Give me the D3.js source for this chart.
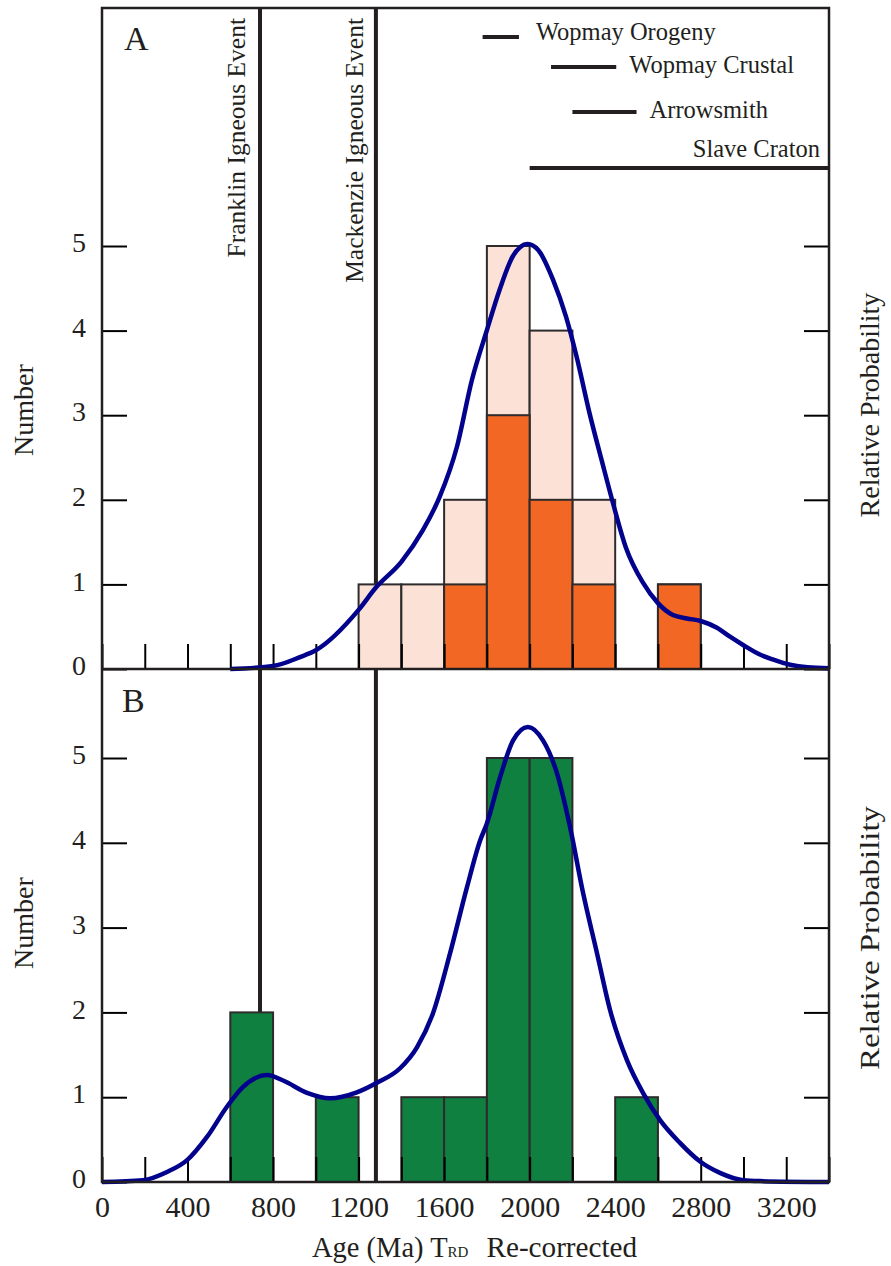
<!DOCTYPE html>
<html>
<head>
<meta charset="utf-8">
<script src="https://cdn.jsdelivr.net/npm/d3@7"></script>
<style>
  body { margin: 0; background: #fff; }
  svg { display: block; }
  text { font-family: "Liberation Serif", "Times New Roman", serif; fill: #231f20; }
</style>
</head>
<body>
<svg id="chart" width="891" height="1266"></svg>
<script>
// histogram bins (Ma), 200 Ma wide
const binStarts = [0, 200, 400, 600, 800, 1000, 1200, 1400, 1600, 1800, 2000, 2200, 2400, 2600, 2800, 3000, 3200];
const countsAllA = [0, 0, 0, 0, 0, 0, 1, 1, 2, 5, 4, 2, 0, 1, 0, 0, 0];
const countsSubA = [0, 0, 0, 0, 0, 0, 0, 0, 1, 3, 2, 1, 0, 1, 0, 0, 0];
const countsB    = [0, 0, 0, 2, 0, 1, 0, 1, 1, 5, 5, 0, 1, 0, 0, 0, 0];

// relative probability curves
const curveAAge  = [600, 800, 926, 1000, 1200, 1280, 1400, 1500, 1580, 1660, 1730, 1800, 1860, 1920, 1990, 2040, 2110, 2170, 2220, 2280, 2340, 2390, 2450, 2530, 2600, 2670, 2736, 2800, 2876, 2937, 3000, 3077, 3140, 3218, 3300, 3400];
const curveAProb = [0, 0.007, 0.028, 0.044, 0.139, 0.191, 0.252, 0.326, 0.406, 0.523, 0.680, 0.797, 0.893, 0.970, 1.0, 0.986, 0.915, 0.829, 0.734, 0.602, 0.485, 0.390, 0.286, 0.203, 0.155, 0.127, 0.119, 0.113, 0.097, 0.076, 0.056, 0.034, 0.022, 0.010, 0.004, 0.002];
const curveBAge  = [0, 192, 304, 398, 491, 585, 660, 772, 847, 959, 1066, 1192, 1286, 1394, 1473, 1548, 1628, 1707, 1768, 1800, 1862, 1922, 1992, 2063, 2128, 2189, 2250, 2315, 2376, 2455, 2530, 2610, 2703, 2797, 2890, 2998, 3077, 3400];
const curveBProb = [0, 0.004, 0.022, 0.048, 0.099, 0.166, 0.209, 0.235, 0.223, 0.196, 0.184, 0.197, 0.218, 0.250, 0.296, 0.371, 0.503, 0.648, 0.750, 0.788, 0.890, 0.970, 1.0, 0.970, 0.898, 0.780, 0.635, 0.503, 0.378, 0.268, 0.196, 0.136, 0.086, 0.045, 0.020, 0.004, 0.002, 0];

// geological events
const eventNames = ["Franklin Igneous Event", "Mackenzie Igneous Event"];
const eventAges = [739, 1281];

// age ranges shown at top of panel A
const rangeNames = ["Wopmay Orogeny", "Wopmay Crustal", "Arrowsmith", "Slave Craton"];
const rangeStart = [1780, 2100, 2200, 2000];
const rangeEnd   = [1950, 2405, 2500, 3400];

const xTicks = [0, 200, 400, 600, 800, 1000, 1200, 1400, 1600, 1800, 2000, 2200, 2400, 2600, 2800, 3000, 3200, 3400];
const xTickLabels = [0, 400, 800, 1200, 1600, 2000, 2400, 2800, 3200];
const yTicks = [0, 1, 2, 3, 4, 5];

// layout
const left = 102, right = 829, topA = 8, baseA = 669, baseB = 1182;
const ink = '#231f20';
const rangeLineY = [37, 67, 112, 168];
const rangeLabelY = [40, 73, 118, 157];

const svg = d3.select('#chart');

const x = d3.scaleLinear().domain([0, 3400]).range([left, right]);
const yA = d3.scaleLinear().domain([0, 5]).range([baseA, 246]);
const yB = d3.scaleLinear().domain([0, 5]).range([baseB, 758]);
const pA = d3.scaleLinear().domain([0, 1]).range([baseA, 244]);
const pB = d3.scaleLinear().domain([0, 1]).range([baseB, 727]);

// vertical event lines (behind the bars)
svg.append('g').selectAll('line')
  .data(eventAges)
  .enter().append('line')
  .attr('x1', d => x(d)).attr('x2', d => x(d))
  .attr('y1', topA).attr('y2', baseB)
  .attr('stroke', ink).attr('stroke-width', 4);

function drawBars(counts, yScale, fill) {
  const bins = binStarts.map((s, i) => ({ x0: s, x1: s + 200, n: counts[i] })).filter(d => d.n > 0);
  svg.append('g').selectAll('rect')
    .data(bins)
    .enter().append('rect')
    .attr('x', d => x(d.x0))
    .attr('y', d => yScale(d.n))
    .attr('width', d => x(d.x1) - x(d.x0))
    .attr('height', d => yScale(0) - yScale(d.n))
    .attr('fill', fill)
    .attr('stroke', '#2e2b2c')
    .attr('stroke-width', 2);
}

drawBars(countsAllA, yA, '#fce1d7');
drawBars(countsSubA, yA, '#f26723');
drawBars(countsB, yB, '#0f8040');

// axes: inward ticks
function styleAxis(g) {
  g.select('.domain').remove();
  g.selectAll('.tick line').attr('stroke', '#000').attr('stroke-width', 2);
  g.selectAll('.tick text').attr('fill', ink).style('font-family', '"Liberation Serif", serif');
}

[[yA, baseA], [yB, baseB]].forEach(([ys, base]) => {
  svg.append('g')
    .attr('transform', `translate(${left},0)`)
    .call(d3.axisLeft(ys).tickValues(yTicks).tickSize(-25).tickPadding(16).tickFormat(d3.format('d')))
    .call(styleAxis)
    .call(g => g.selectAll('.tick text').attr('font-size', 28).attr('dy', '0.2em'));

  svg.append('g')
    .attr('transform', `translate(${right},0)`)
    .call(d3.axisRight(ys).tickValues(yTicks).tickSize(-25).tickFormat(''))
    .call(styleAxis);

  const xa = d3.axisBottom(x).tickValues(xTicks).tickSize(-25).tickPadding(14)
    .tickFormat(d => base === baseB && xTickLabels.includes(d) ? d : '');
  svg.append('g')
    .attr('transform', `translate(0,${base})`)
    .call(xa)
    .call(styleAxis)
    .call(g => g.selectAll('.tick text').attr('font-size', 30));
});

// probability curves
const line = d3.line().curve(d3.curveMonotoneX);
svg.append('path')
  .attr('d', line(curveAAge.map((a, i) => [x(a), pA(curveAProb[i])])))
  .attr('fill', 'none').attr('stroke', '#02028c').attr('stroke-width', 4.5);
svg.append('path')
  .attr('d', line(curveBAge.map((a, i) => [x(a), pB(curveBProb[i])])))
  .attr('fill', 'none').attr('stroke', '#02028c').attr('stroke-width', 4.5);

// frame
const frame = svg.append('g').attr('stroke', ink).attr('stroke-width', 2.5).attr('fill', 'none');
frame.append('rect').attr('x', left).attr('y', topA).attr('width', right - left).attr('height', baseB - topA);
frame.append('line').attr('x1', left).attr('x2', right).attr('y1', baseA).attr('y2', baseA);

// age range bars + labels
rangeNames.forEach((name, i) => {
  svg.append('line')
    .attr('x1', x(rangeStart[i])).attr('x2', x(rangeEnd[i]))
    .attr('y1', rangeLineY[i]).attr('y2', rangeLineY[i])
    .attr('stroke', ink).attr('stroke-width', 4);
  const last = i === rangeNames.length - 1;
  svg.append('text')
    .attr('x', last ? 820 : x(rangeEnd[i]) + (i === 0 ? 17 : 13))
    .attr('y', rangeLabelY[i])
    .attr('text-anchor', last ? 'end' : 'start')
    .attr('font-size', 24.5)
    .text(name);
});

// event labels
const eventLabelX = [245, 363];
eventNames.forEach((name, i) => {
  svg.append('text')
    .attr('transform', `translate(${eventLabelX[i]},18) rotate(-90)`)
    .attr('text-anchor', 'end')
    .attr('font-size', 25.5)
    .text(name);
});

// panel letters
svg.append('text').attr('x', 124).attr('y', 50).attr('font-size', 34).text('A');
svg.append('text').attr('x', 122).attr('y', 712).attr('font-size', 34).text('B');

// axis titles
svg.append('text')
  .attr('transform', 'translate(33,410) rotate(-90)')
  .attr('text-anchor', 'middle').attr('font-size', 28)
  .text('Number');
svg.append('text')
  .attr('transform', 'translate(33,923) rotate(-90)')
  .attr('text-anchor', 'middle').attr('font-size', 28)
  .text('Number');
svg.append('text')
  .attr('transform', 'translate(879,405) rotate(-90)')
  .attr('text-anchor', 'middle').attr('font-size', 28)
  .text('Relative Probability');
svg.append('text')
  .attr('transform', 'translate(879,938) rotate(-90)')
  .attr('text-anchor', 'middle').attr('font-size', 28)
  .attr('textLength', 264).attr('lengthAdjust', 'spacingAndGlyphs')
  .text('Relative Probability');

const title = svg.append('text').attr('x', 312).attr('y', 1257).attr('font-size', 28.5);
title.append('tspan').text('Age (Ma) T');
title.append('tspan').attr('font-size', 15).text('RD');
title.append('tspan').attr('dx', 18).attr('font-size', 29.2).text('Re-corrected');
</script>
</body>
</html>
